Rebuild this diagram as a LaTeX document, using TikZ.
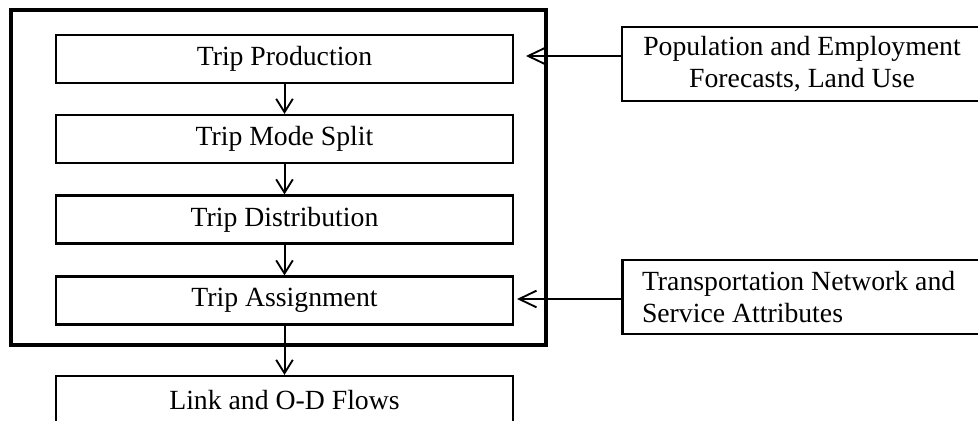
\documentclass[tikz,border=0pt]{standalone}
\usepackage{fontspec}
\setmainfont{Liberation Serif}
\usetikzlibrary{arrows.meta}

\tikzset{
  txt/.style={font=\fontsize{20.8pt}{24pt}\selectfont},
  stagebox/.style={txt, draw, line width=1.6pt, rectangle,
    minimum width=342.75pt, minimum height=36pt, inner sep=0pt},
  framebox/.style={draw, line width=2.4pt, rectangle,
    minimum width=401.25pt, minimum height=251.25pt, inner sep=0pt},
  inputbox/.style={txt, draw, line width=1.6pt, rectangle, align=center,
    minimum width=270pt, minimum height=55.5pt, inner sep=0pt},
  flow/.style={line width=1.5pt,
    -{Straight Barb[length=10pt, width=12.5pt, line width=1.4pt]}},
  feed/.style={line width=1.5pt,
    -{Straight Barb[length=13pt, width=12.5pt, line width=1.4pt]}},
}

\begin{document}
\begin{tikzpicture}[x=0.75pt, y=-0.75pt]
  \useasboundingbox (0,0) rectangle (978,421);
  \clip (0,0) rectangle (978,421);

  % enclosing frame of the four-step model
  \node[framebox] (frame) at (278.5,177.5) {};

  % the four modelling steps
  \node[stagebox] (prod)   at (284.5,59)    {Trip Production};
  \node[stagebox] (mode)   at (284.5,139)   {Trip Mode Split};
  \node[stagebox] (dist)   at (284.5,219.5) {Trip Distribution};
  \node[stagebox] (assign) at (284.5,300.5) {Trip Assignment};

  % result
  \node[stagebox] (flows)  at (284.5,400)   {Link and O-D Flows};

  % external inputs
  \node[inputbox] (pop) at (802,64)
    {Population and Employment\\Forecasts, Land Use};
  \node[inputbox, align=flush left, text width=240.75pt, inner xsep=14.25pt,
        minimum height=55.5pt] (net) at (802.5,297)
    {Transportation Network and\\Service Attributes};

  % flow between the steps
  \draw[flow] (prod.south)   -- (mode.north);
  \draw[flow] (mode.south)   -- (dist.north);
  \draw[flow] (dist.south)   -- (assign.north);
  \draw[flow] (assign.south) -- (flows.north);

  % inputs feeding the model
  \coordinate (popTip) at (526,56);
  \coordinate (netTip) at (517,299);
  \draw[feed] (pop.west |- popTip) -- (popTip);
  \draw[feed] (net.west |- netTip) -- (netTip);
\end{tikzpicture}
\end{document}
